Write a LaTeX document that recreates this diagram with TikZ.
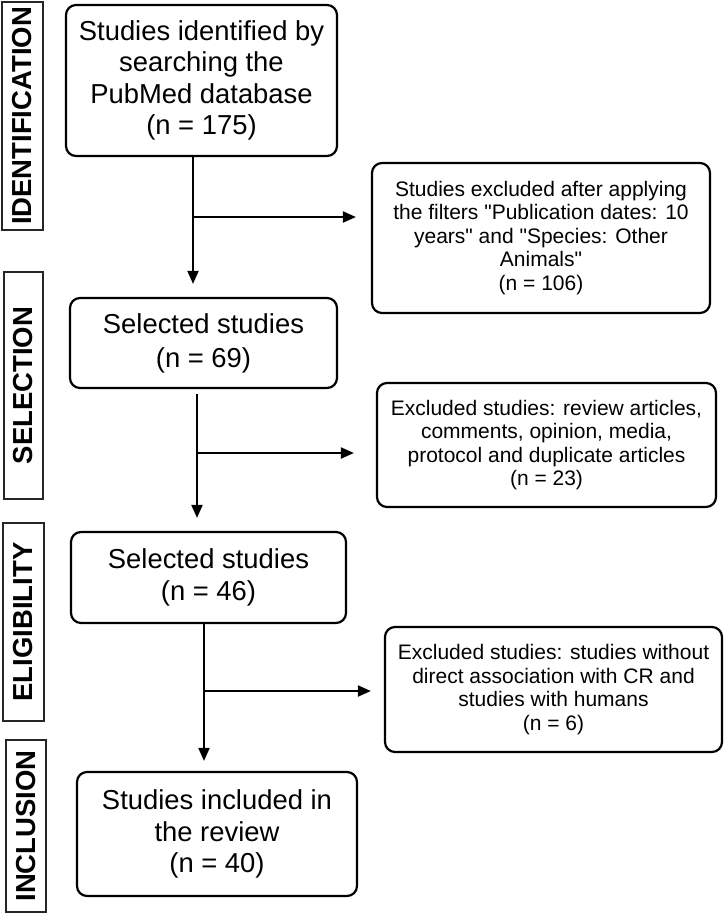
\documentclass[tikz,border=0pt]{standalone}
\usepackage{fontspec}
\setmainfont{Liberation Sans}[Ligatures=TeXOff]
\usetikzlibrary{arrows.meta}
\begin{document}
\begin{tikzpicture}[x=1pt,y=-1pt,
  bigbox/.style={draw, line width=2.2pt, rounded corners=10pt, align=center, inner sep=0pt, font=\fontsize{27.4}{31.5}\selectfont},
  smallbox/.style={draw, line width=2.2pt, rounded corners=10pt, align=center, inner sep=0pt, font=\fontsize{21}{23.5}\selectfont},
  phase/.style={draw=black!85, line width=1.3pt, rotate=90, inner sep=0pt, font=\fontsize{27.5}{30}\selectfont\bfseries},
  conn/.style={line width=2pt},
  arr/.style={line width=2pt, -{Triangle[length=13pt,width=11pt]}}]
\useasboundingbox (0,0) rectangle (725,914);

% phase labels
\node[phase, minimum width=228pt, minimum height=41pt] (pid) at (22.5,116) {IDENTIFICATION};
\node[phase, minimum width=227pt, minimum height=39pt] (psel) at (23.5,385.5) {SELECTION};
\node[phase, minimum width=198pt, minimum height=41pt] (pel) at (23.5,622) {ELIGIBILITY};
\node[phase, minimum width=172pt, minimum height=40pt] (pin) at (26,826) {INCLUSION};

% main boxes
\node[bigbox, minimum width=271pt, minimum height=151pt] (b1) at (201.5,80.5) {Studies identified by\\searching the\\PubMed database\\(n = 175)};
\node[smallbox, minimum width=338pt, minimum height=150pt] (b106) at (541,238) {Studies excluded after applying\\the filters "Publication dates: 10\\years" and "Species: Other\\Animals"\\(n = 106)};
\node[bigbox, minimum width=267pt, minimum height=90pt, font=\fontsize{27.4}{34}\selectfont] (b69) at (203.5,343) {Selected studies\\(n = 69)};
\node[smallbox, minimum width=339pt, minimum height=124pt] (b23) at (546.5,445) {Excluded studies: review articles,\\comments, opinion, media,\\protocol and duplicate articles\\(n = 23)};
\node[bigbox, minimum width=275pt, minimum height=91pt] (b46) at (208.5,577.5) {Selected studies\\(n = 46)};
\node[smallbox, minimum width=337pt, minimum height=125pt] (b6) at (553.5,689.5) {Excluded studies: studies without\\direct association with CR and\\studies with humans\\(n = 6)};
\node[bigbox, minimum width=280pt, minimum height=124pt] (b40) at (217,834) {Studies included in\\the review\\(n = 40)};

% connectors
\coordinate (j1) at (193,217);
\draw[conn] (b1.south -| j1) -- (j1);
\draw[arr, shorten >=13pt] (j1) -- (j1 |- b69.north);
\draw[arr, shorten >=15pt] (j1) -- (j1 -| b106.west);

\coordinate (j2) at (197,453);
\draw[conn, shorten <=5pt] (b69.south -| j2) -- (j2);
\draw[arr, shorten >=13pt] (j2) -- (j2 |- b46.north);
\draw[arr, shorten >=22pt] (j2) -- (j2 -| b23.west);

\coordinate (j3) at (204,691);
\draw[conn] (b46.south -| j3) -- (j3);
\draw[arr, shorten >=10pt] (j3) -- (j3 |- b40.north);
\draw[arr, shorten >=13pt] (j3) -- (j3 -| b6.west);
\end{tikzpicture}
\end{document}
